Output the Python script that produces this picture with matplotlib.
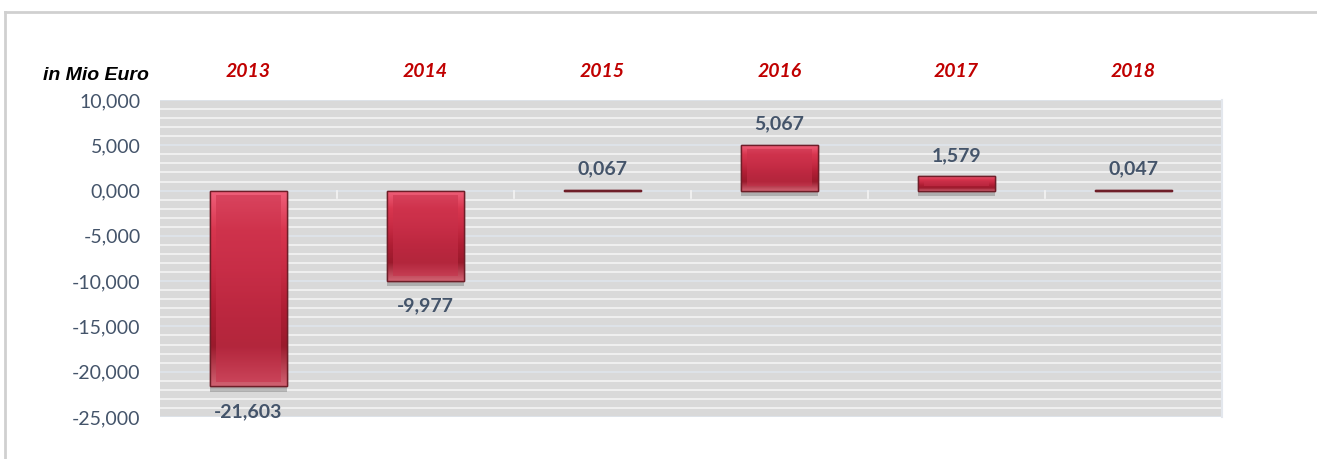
import numpy as np
import matplotlib.pyplot as plt
import matplotlib.patheffects as pe
from matplotlib.colors import LinearSegmentedColormap
from matplotlib.lines import Line2D

years = ['2013', '2014', '2015', '2016', '2017', '2018']
values = [-21.603, -9.977, 0.067, 5.067, 1.579, 0.047]
value_labels = ['-21,603', '-9,977', '0,067', '5,067', '1,579', '0,047']
yticks = [10, 5, 0, -5, -10, -15, -20, -25]
ytick_labels = ['10,000', '5,000', '0,000', '-5,000', '-10,000', '-15,000', '-20,000', '-25,000']

plt.rcParams.update({
    'font.family': ['Lato', 'DejaVu Sans'],
})

slate = '#44546A'
red_year = '#C00000'

fig = plt.figure(figsize=(13.17, 4.59), dpi=100)
ax = fig.add_axes([160/1317, 42/459, 1062/1317, 317/459])

# outer frame of the chart
fig.add_artist(Line2D([5/1317, 5/1317], [0, 1 - 12/459], color='#D0D0D0', lw=2, transform=fig.transFigure))
fig.add_artist(Line2D([5/1317, 1], [1 - 12/459, 1 - 12/459], color='#D0D0D0', lw=2, transform=fig.transFigure))

ax.set_facecolor('#D9D9D9')
ax.set_xlim(-0.5, len(years) - 0.5)
ax.set_ylim(-25, 10)

# gridlines every 1000, white
for g in np.arange(-25, 10.01, 1):
    c = '#DEE4EC' if g % 5 == 0 else '#F4F4F4'
    ax.axhline(g, color=c, lw=1.2, zorder=1)

# small separators at the zero line between categories
for b in np.arange(0.5, len(years) - 0.5, 1):
    ax.plot([b, b], [0, -0.8], color='#F4F4F4', lw=1.2, zorder=1)

x = np.arange(len(years))
w = 0.43
bars = ax.bar(x, values, width=w, color='#C02840', edgecolor='#6E1E28', lw=1.0, zorder=3)
for bar in bars:
    bar.set_path_effects([pe.SimplePatchShadow(offset=(0, -4), shadow_rgbFace='#7A7A7A', alpha=0.45), pe.Normal()])

# bevel look: vertical gradient clipped to each bar
cmap = LinearSegmentedColormap.from_list('bevel', ['#F0607A', '#D8364F', '#C82B44', '#B01E34', '#9A1A2C', '#D06070'])
grad = np.linspace(0, 1, 100).reshape(-1, 1)
for bar, v in zip(bars, values):
    x0, y0 = bar.get_x(), bar.get_y()
    h, bw = bar.get_height(), bar.get_width()
    ylo, yhi = min(y0, y0 + h), max(y0, y0 + h)
    im = ax.imshow(grad, cmap=cmap, aspect='auto', extent=(x0, x0 + bw, ylo, yhi),
                   origin='upper', zorder=4, interpolation='bicubic')
    im.set_clip_path(bar)
    if abs(v) > 1:
        inset = 0.5
        ax.bar(bar.get_x() + bw / 2, (yhi - ylo) - 2 * inset, bottom=ylo + inset, width=bw * 0.86,
               color='#C8304A', alpha=0.55, lw=0, zorder=5)
    ax.bar(bar.get_x() + bw / 2, v, width=bw, fill=False, edgecolor='#6E1E28', lw=1.0, zorder=6)

ax.set_xlim(-0.5, len(years) - 0.5)
ax.set_ylim(-25, 10)

for xi, v, lab in zip(x, values, value_labels):
    if v >= 0:
        ax.annotate(lab, (xi, v), xytext=(0, 9), textcoords='offset points',
                    ha='center', va='bottom', fontsize=14, fontweight='bold', color=slate)
    else:
        ax.annotate(lab, (xi, v), xytext=(0, -12), textcoords='offset points',
                    ha='center', va='top', fontsize=14, fontweight='bold', color=slate)

# year headers above the plot
for xi, yr in zip(x, years):
    ax.text(xi, 1.09, yr, transform=ax.get_xaxis_transform(), ha='center', va='center',
            fontsize=14, fontweight='bold', fontstyle='italic', color=red_year)

fig.text(96/1317, 1 - 75/459, 'in Mio Euro', ha='center', va='center', fontsize=14,
         fontweight='bold', fontstyle='italic', family='Liberation Sans', color='black')

ax.set_yticks(yticks, labels=ytick_labels)
ax.tick_params(axis='y', length=0, pad=14, labelsize=14, labelcolor=slate)
ax.set_xticks([])
for s in ['top', 'left', 'bottom']:
    ax.spines[s].set_visible(False)
ax.spines['right'].set_color('#E3E7ED')
ax.spines['right'].set_linewidth(1.5)

plt.savefig('out.png', dpi=100)
